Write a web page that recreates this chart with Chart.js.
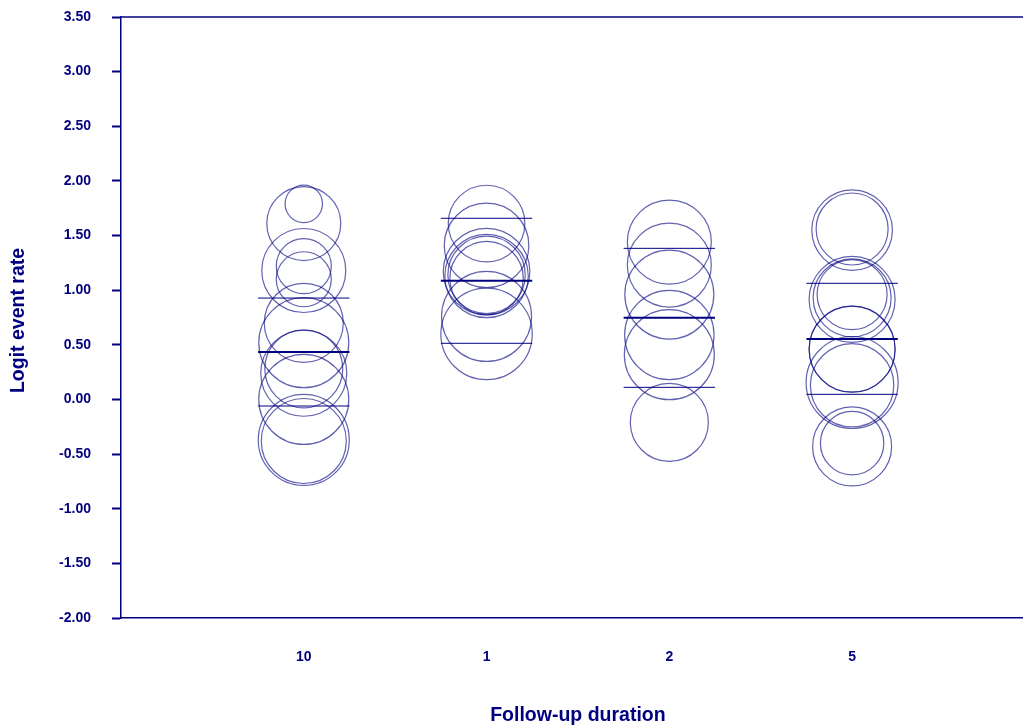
<!DOCTYPE html>
<html>
<head>
<meta charset="utf-8">
<script src="https://cdn.jsdelivr.net/npm/chart.js@4"></script>
<style>
  html, body { margin: 0; padding: 0; background: #fff; }
</style>
</head>
<body>
<canvas id="chart" width="1023" height="728"></canvas>
<script>
// follow-up duration groups (shown in this order)
const categories = ['10', '1', '2', '5'];

// logit event rate per study, and bubble size (study weight)
const dur10Values  = [1.79, 1.61, 1.18, 1.22, 1.10, 0.70, 0.52, 0.28, 0.24, 0.00, -0.37, -0.38];
const dur10Weights = [18.7, 37, 42, 27.5, 27.5, 39.5, 45, 39, 43, 45, 45.5, 42.5];
const dur1Values   = [1.61, 1.41, 1.17, 1.14, 1.13, 1.11, 0.76, 0.60];
const dur1Weights  = [38.3, 42.3, 43.3, 38.7, 41.7, 36.7, 45, 45.7];
const dur2Values   = [1.44, 1.23, 0.96, 0.59, 0.41, -0.21];
const dur2Weights  = [42, 42, 44.5, 44.7, 45, 39];
const dur5Values   = [1.55, 1.56, 0.915, 0.93, 0.96, 0.46, 0.46, 0.155, 0.13, -0.43, -0.40];
const dur5Weights  = [40.3, 36, 43, 39, 35, 43, 43, 46, 41.7, 39.5, 31.7];

// pooled estimate and its band for each group
const meanValues  = [0.434, 1.087, 0.748, 0.553];
const upperValues = [0.928, 1.658, 1.383, 1.063];
const lowerValues = [-0.06, 0.514, 0.111, 0.047];

const yMin = -2, yMax = 3.5, yStep = 0.5;

const NAVY = '#000080';
const FONT = '"Liberation Sans", Arial, sans-serif';
const groupValues = [dur10Values, dur1Values, dur2Values, dur5Values];
const groupWeights = [dur10Weights, dur1Weights, dur2Weights, dur5Weights];

const datasets = [];

groupValues.forEach((vals, g) => {
    datasets.push({
        type: 'bubble',
        data: vals.map((v, i) => ({ x: g + 1, y: v, r: groupWeights[g][i] })),
        backgroundColor: 'rgba(0,0,0,0)',
        borderColor: 'rgba(0,0,128,0.62)',
        borderWidth: 1.2,
        hoverRadius: 0
    });
});

// horizontal segments: mean (thick), upper and lower (thin)
const half = 0.25;
categories.forEach((_, g) => {
    [[meanValues, 2], [upperValues, 1], [lowerValues, 1]].forEach(([arr, w]) => {
        datasets.push({
            type: 'line',
            data: [{ x: g + 1 - half, y: arr[g] }, { x: g + 1 + half, y: arr[g] }],
            borderColor: NAVY,
            borderWidth: w,
            pointRadius: 0,
            fill: false
        });
    });
});

// frame line on top + axis titles
const extras = {
    id: 'extras',
    afterDraw(chart) {
        const { ctx, chartArea, scales } = chart;
        ctx.save();
        ctx.strokeStyle = NAVY;
        ctx.lineWidth = 1.5;
        ctx.beginPath();
        ctx.moveTo(chartArea.left, chartArea.top);
        ctx.lineTo(chartArea.right, chartArea.top);
        ctx.stroke();

        ctx.fillStyle = NAVY;
        ctx.font = 'bold 19.5px ' + FONT;
        ctx.textAlign = 'center';
        ctx.textBaseline = 'middle';
        ctx.fillText('Follow-up duration', scales.x.getPixelForValue(2.5), chartArea.bottom + 98);

        ctx.translate(19, (chartArea.top + chartArea.bottom) / 2 + 3);
        ctx.rotate(-Math.PI / 2);
        ctx.fillText('Logit event rate', 0, 0);
        ctx.restore();
    }
};

new Chart(document.getElementById('chart'), {
    type: 'bubble',
    data: { datasets },
    options: {
        responsive: false,
        animation: false,
        layout: { autoPadding: false, padding: { top: 17, right: 0, bottom: 0, left: 0 } },
        plugins: { legend: { display: false }, tooltip: { enabled: false } },
        scales: {
            x: {
                type: 'linear',
                min: 0,
                max: 4.935,
                afterFit: s => { s.height = 110; s.paddingLeft = 0; s.paddingRight = 0; },
                afterBuildTicks: s => { s.ticks = categories.map((_, i) => ({ value: i + 1 })); },
                grid: { drawOnChartArea: false, drawTicks: false },
                border: { color: NAVY, width: 1.5 },
                ticks: {
                    padding: 31,
                    color: NAVY,
                    font: { family: FONT, size: 14, weight: 'bold' },
                    callback: v => categories[v - 1] || ''
                }
            },
            y: {
                type: 'linear',
                min: yMin,
                max: yMax,
                afterFit: s => { s.width = 121; s.paddingTop = 0; s.paddingBottom = 0; },
                grid: { drawOnChartArea: false, tickLength: 9, tickWidth: 2, tickColor: NAVY },
                border: { color: NAVY, width: 1.5 },
                ticks: {
                    stepSize: yStep,
                    padding: 21,
                    color: NAVY,
                    font: { family: FONT, size: 14, weight: 'bold' },
                    callback: v => v.toFixed(2)
                }
            }
        }
    },
    plugins: [extras]
});
</script>
</body>
</html>
